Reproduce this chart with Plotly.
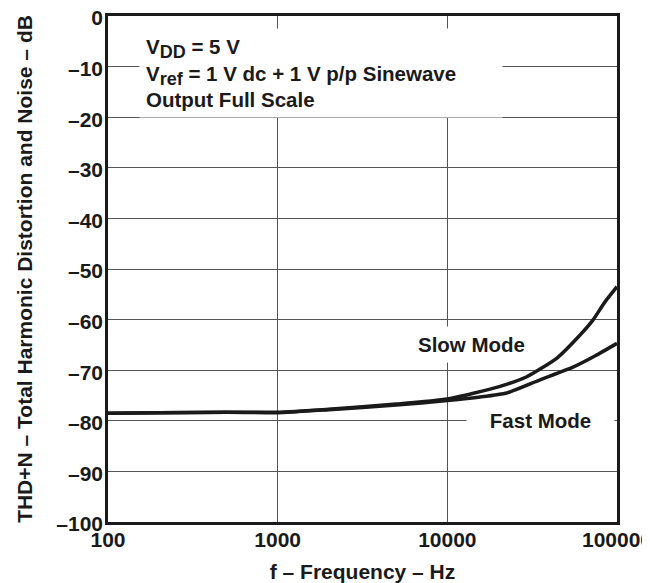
import plotly.graph_objects as go

freq_slow = [100, 200, 500, 1000, 2000, 5000, 10000, 20000, 29400, 44300, 60000, 72100, 85000, 100000]
thd_slow = [-78.5, -78.4, -78.3, -78.3, -77.7, -76.7, -75.7, -73.3, -71.3, -67.6, -63.2, -60.1, -56.5, -53.5]

freq_fast = [100, 200, 500, 1000, 2000, 5000, 10000, 15600, 22400, 35200, 55000, 75000, 100000]
thd_fast = [-78.5, -78.4, -78.3, -78.4, -77.8, -76.9, -76.0, -75.3, -74.5, -71.9, -69.4, -67.1, -64.7]

y_ticks = [0, -10, -20, -30, -40, -50, -60, -70, -80, -90, -100]
y_tick_text = ["0" if v == 0 else "\u2013" + str(-v) for v in y_ticks]
x_ticks = [100, 1000, 10000, 100000]
x_tick_text = ["100", "1000", "10000", "100000"]

FONT = "Liberation Sans"
INK = "#1a1a1a"

fig = go.Figure()
for fx, fy in ((freq_slow, thd_slow), (freq_fast, thd_fast)):
    fig.add_trace(go.Scatter(x=fx, y=fy, mode="lines",
                             line=dict(color=INK, width=3.5, shape="spline", smoothing=0.5),
                             showlegend=False, hoverinfo="skip"))

# page body has an 8px margin, so the figure is drawn 8px in from the top-left
fig.update_layout(
    width=642, height=575,
    margin=dict(l=100, r=33, t=8, b=61),
    paper_bgcolor="white", plot_bgcolor="white",
    font=dict(family=FONT, size=21, color=INK),
    xaxis=dict(type="log", range=[2, 5], tickvals=x_ticks, ticktext=x_tick_text,
               showgrid=True, gridcolor="#555555", gridwidth=1,
               showline=True, linecolor=INK, linewidth=2.5, mirror=True,
               ticks="", automargin=False, ticklabeloverflow="allow", ticklabelstandoff=-3,
               tickfont=dict(family=FONT, size=21, color=INK, weight="bold"),
               title=dict(text="<b>f \u2013 Frequency \u2013 Hz</b>", font=dict(family=FONT, size=21, color=INK), standoff=18),
               zeroline=False),
    yaxis=dict(range=[-100, 0], tickvals=y_ticks, ticktext=y_tick_text,
               showgrid=True, gridcolor="#555555", gridwidth=1,
               showline=True, linecolor=INK, linewidth=2.5, mirror=True,
               ticks="", automargin=False, ticklabeloverflow="allow", ticklabelstandoff=-2,
               ticklabelshift=2,
               tickfont=dict(family=FONT, size=21, color=INK, weight="bold"),
               title=dict(text="<b>THD+N \u2013 Total Harmonic Distortion and Noise \u2013 dB</b>", font=dict(family=FONT, size=21, color=INK), standoff=18),
               zeroline=False),
)

sub = '<sub><span style="font-size:18px">{}</span></sub>'
fig.add_annotation(xref="paper", yref="paper", x=0.061, y=0.976, xanchor="left", yanchor="top",
                   align="left", showarrow=False, bgcolor="white", borderpad=6, width=350,
                   text="<b>V" + sub.format("DD") + " = 5 V<br>V" + sub.format("ref") +
                        " = 1 V dc + 1 V p/p Sinewave<br>Output Full Scale</b>",
                   font=dict(family=FONT, size=20.5, color=INK))
fig.add_annotation(x=4.145, y=-65.0, xref="x", yref="y", showarrow=False, bgcolor="white",
                   borderpad=6, width=125,
                   text="<b>Slow Mode</b>", font=dict(family=FONT, size=20.5, color=INK))
fig.add_annotation(x=4.552, y=-80, xref="x", yref="y", showarrow=False, bgcolor="white",
                   borderpad=6, width=135,
                   text="<b>Fast Mode</b>", font=dict(family=FONT, size=20.5, color=INK))

fig.write_html("out.html")
